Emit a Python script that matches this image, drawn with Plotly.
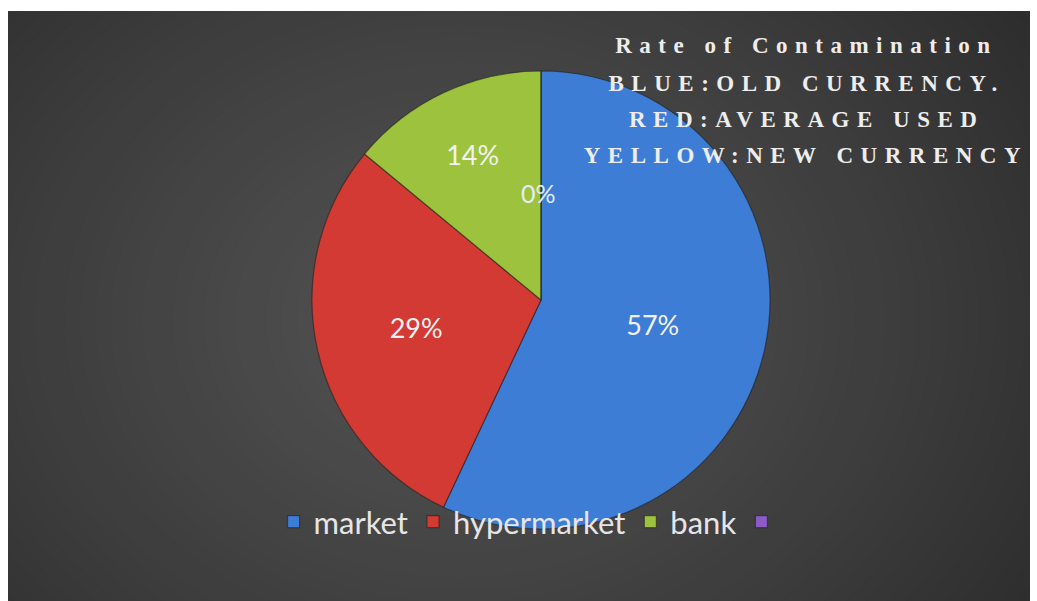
import plotly.graph_objects as go

# ---- data ----
categories = ["market", "hypermarket", "bank", "\u00a0"]
shares = [57, 29, 14, 0]
slice_colors = ["#3d7dd6", "#d33a33", "#9dc23d", "#8a5cc4"]
zero_label = "0%"
title_lines = [
    "Rate of Contamination",
    "BLUE:OLD CURRENCY.",
    "RED:AVERAGE USED",
    "YELLOW:NEW CURRENCY",
]

W, H = 1037, 601

fig = go.Figure()
fig.add_trace(go.Pie(
    labels=categories,
    values=shares,
    sort=False,
    direction="clockwise",
    rotation=0,
    marker=dict(colors=slice_colors, line=dict(color="rgba(30,30,30,0.55)", width=1.2)),
    texttemplate="%{percent:.0%}",
    textposition="inside",
    insidetextorientation="horizontal",
    textfont=dict(family="Lato", size=27, color="#f2f2f2"),
    domain=dict(x=[(541 - 229) / W, (541 + 229) / W], y=[1 - 530 / H, 1 - 70 / H]),
    showlegend=True,
    hoverinfo="label+percent",
))

shapes = []
# radial-ish gradient background made of nested ellipses
n = 45
cx, cy = 460 / W, 1 - 320 / H
outer_c, inner_c = 42, 82
for i in range(n):
    t = i / (n - 1)
    rx = (720 - 680 * t) / W
    ry = (580 - 545 * t) / H
    g = int(round(outer_c + (inner_c - outer_c) * t ** 0.85))
    shapes.append(dict(type="circle", xref="paper", yref="paper", layer="below",
                       x0=cx - rx, x1=cx + rx, y0=cy - ry, y1=cy + ry,
                       fillcolor=f"rgb({g},{g},{g})", line=dict(width=0)))
# white frame around the dark panel
for x0, x1, y0, y1 in [(0, 8 / W, 0, 1), (1030 / W, 1, 0, 1), (0, 1, 1 - 11 / H, 1)]:
    shapes.append(dict(type="rect", xref="paper", yref="paper", layer="below",
                       x0=x0, x1=x1, y0=y0, y1=y1, fillcolor="white", line=dict(width=0)))

annotations = []
title_y = [45, 83, 119, 155]
for txt, yy in zip(title_lines, title_y):
    annotations.append(dict(
        text=txt, x=806 / W, y=1 - yy / H, xref="paper", yref="paper",
        xanchor="center", yanchor="middle", showarrow=False,
        font=dict(family="Liberation Serif", size=23, color="#ededed", weight="bold"),
    ))
# label of the zero-share slice (Plotly does not draw text for empty slices)
annotations.append(dict(
    text=zero_label, x=538 / W, y=1 - 193 / H, xref="paper", yref="paper",
    xanchor="center", yanchor="middle", showarrow=False,
    font=dict(family="Lato", size=25, color="#e4ecf8"),
))

fig.update_layout(
    width=W, height=H,
    margin=dict(l=0, r=0, t=0, b=0),
    paper_bgcolor="white",
    plot_bgcolor="rgba(0,0,0,0)",
    shapes=shapes,
    annotations=annotations,
    legend=dict(
        orientation="h", x=0.515, xanchor="center", y=1 - 522 / H, yanchor="middle",
        font=dict(family="Lato", size=31, color="#e6e6e6"),
        bgcolor="rgba(0,0,0,0)", itemwidth=30, traceorder="normal",
    ),
)

post = """
document.querySelectorAll('text.annotation-text').forEach(function(el){
  if ((el.style.fontFamily || '').indexOf('Serif') >= 0) { el.style.letterSpacing = '7.5px'; }
});
"""
fig.write_html("out.html", post_script=post)
